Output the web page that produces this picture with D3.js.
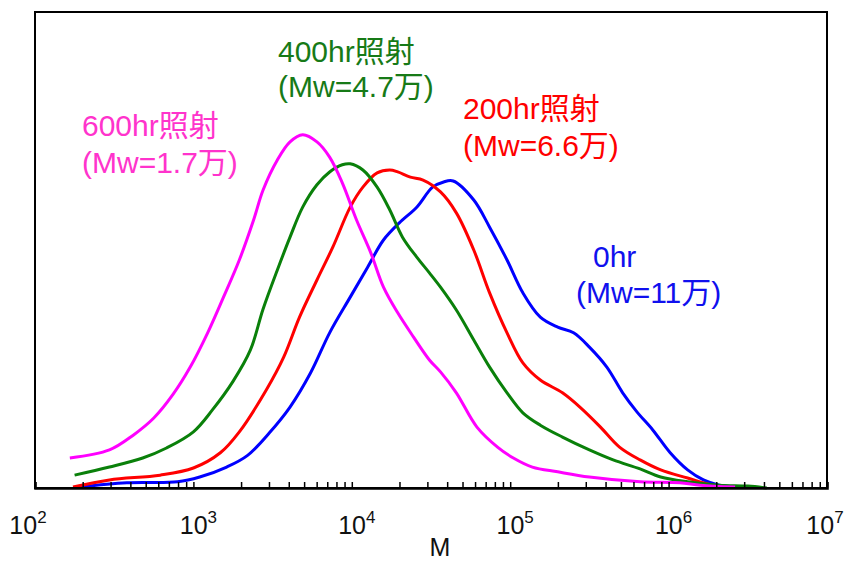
<!DOCTYPE html>
<html>
<head>
<meta charset="utf-8">
<script src="https://cdnjs.cloudflare.com/ajax/libs/d3/7.8.5/d3.min.js"></script>
<style>
  body { margin: 0; background: #fff; }
  svg text { font-family: "Liberation Sans", Arial, "Noto Sans CJK JP", sans-serif; }
</style>
</head>
<body>
<svg id="chart" width="846" height="561"></svg>
<script>
// log10(M) sample points and relative intensity
const logM600 = [2.22, 2.47, 2.62, 2.75, 2.87, 2.98, 3.09, 3.19, 3.29, 3.38, 3.44, 3.53, 3.61, 3.69, 3.78, 3.86, 3.94, 4.03, 4.12, 4.20, 4.29, 4.39, 4.49, 4.56, 4.66, 4.79, 4.92, 5.02, 5.14, 5.30, 5.50, 5.82, 6.07, 6.20, 6.42];
const val600  = [6.3, 8.0, 11.1, 14.7, 19.6, 25.4, 32.6, 40.1, 47.9, 56.3, 62.6, 68.9, 72.7, 74.2, 72.7, 69.5, 64.1, 56.3, 49.4, 42.2, 36.8, 31.7, 26.9, 24.4, 20.0, 12.8, 8.6, 6.3, 4.4, 3.4, 2.3, 1.3, 1.1, 0.6, 0.2];

const logM400 = [2.25, 2.47, 2.68, 2.83, 3.00, 3.12, 3.25, 3.36, 3.44, 3.53, 3.61, 3.69, 3.78, 3.86, 3.94, 3.99, 4.07, 4.16, 4.24, 4.32, 4.41, 4.49, 4.56, 4.66, 4.77, 4.87, 4.98, 5.08, 5.19, 5.33, 5.50, 5.65, 5.82, 5.95, 6.12, 6.32, 6.50, 6.62];
const val400  = [2.7, 4.4, 6.3, 8.4, 11.8, 16.4, 22.4, 29.0, 37.6, 45.8, 52.7, 59.0, 63.7, 66.4, 67.9, 68.1, 66.8, 63.2, 58.4, 52.7, 48.5, 45.2, 42.2, 37.4, 31.1, 25.4, 20.0, 15.8, 13.2, 10.7, 8.0, 5.9, 4.0, 2.3, 1.3, 0.6, 0.4, 0.0];

const logM200 = [2.24, 2.47, 2.79, 3.00, 3.17, 3.29, 3.46, 3.57, 3.67, 3.78, 3.88, 3.99, 4.07, 4.16, 4.24, 4.29, 4.37, 4.45, 4.56, 4.66, 4.77, 4.87, 4.98, 5.08, 5.19, 5.33, 5.44, 5.57, 5.69, 5.82, 5.95, 6.12, 6.28, 6.41];
const val200  = [0.2, 1.7, 2.7, 4.2, 7.4, 11.8, 20.6, 27.5, 35.9, 43.7, 50.6, 59.0, 63.2, 66.2, 66.8, 66.4, 65.3, 64.7, 62.2, 57.8, 50.0, 41.0, 32.6, 26.3, 22.7, 20.0, 17.0, 12.8, 8.6, 5.9, 3.8, 2.1, 0.6, 0.2];

const logM0 = [2.28, 2.58, 2.90, 3.04, 3.21, 3.34, 3.48, 3.61, 3.74, 3.86, 3.99, 4.10, 4.20, 4.30, 4.41, 4.51, 4.58, 4.64, 4.77, 4.87, 4.98, 5.08, 5.19, 5.30, 5.40, 5.50, 5.61, 5.71, 5.80, 5.90, 6.01, 6.12, 6.22, 6.32, 6.45];
const val0  = [0.2, 1.1, 1.3, 2.3, 4.4, 6.8, 11.6, 17.0, 24.2, 32.6, 40.1, 46.4, 52.1, 55.7, 59.0, 63.2, 64.3, 64.5, 60.5, 54.8, 47.9, 41.0, 35.9, 33.8, 32.6, 29.6, 25.4, 20.0, 16.0, 12.2, 7.4, 3.8, 1.7, 0.6, 0.2];

const tickExponents = [2, 3, 4, 5, 6, 7];

const series = [
  { name: "0hr", logM: logM0, val: val0, color: "#0000ff", text: "#1010ee", lines: ["0hr", "(Mw=11万)"] },
  { name: "200hr", logM: logM200, val: val200, color: "#ff0000", text: "#ff0000", lines: ["200hr照射", "(Mw=6.6万)"] },
  { name: "400hr", logM: logM400, val: val400, color: "#0a800a", text: "#177a17", lines: ["400hr照射", "(Mw=4.7万)"] },
  { name: "600hr", logM: logM600, val: val600, color: "#ff00ff", text: "#ff33cc", lines: ["600hr照射", "(Mw=1.7万)"] }
];

const margin = { left: 35, top: 12, right: 19, bottom: 73 };
const W = 846, H = 561;
const svg = d3.select('#chart');

const x = d3.scaleLog().domain([1e2, 1e7]).range([margin.left, W - margin.right]);
const y = d3.scaleLinear().domain([0, 100]).range([H - margin.bottom, margin.top]);

// curves
const line = d3.line()
  .x(d => x(Math.pow(10, d[0])))
  .y(d => y(d[1]))
  .curve(d3.curveCatmullRom.alpha(0.5));

svg.append('g')
  .selectAll('path')
  .data(series)
  .join('path')
  .attr('fill', 'none')
  .attr('stroke', d => d.color)
  .attr('stroke-width', 3)
  .attr('stroke-linejoin', 'round')
  .attr('d', d => line(d.logM.map((m, i) => [m, d.val[i]])));

// frame
svg.append('rect')
  .attr('x', margin.left)
  .attr('y', margin.top)
  .attr('width', W - margin.left - margin.right)
  .attr('height', H - margin.top - margin.bottom)
  .attr('fill', 'none')
  .attr('stroke', '#000')
  .attr('stroke-width', 2);

// minor + major ticks pointing inward
const ticks = [];
for (let e = 2; e < 7; e++) {
  for (let k = 1; k < 10; k++) ticks.push(k * Math.pow(10, e));
}
ticks.push(1e7);
const xAxis = d3.axisBottom(x).tickValues(ticks).tickSize(-6).tickFormat('');
const ax = svg.append('g')
  .attr('transform', `translate(0,${H - margin.bottom})`)
  .call(xAxis);
ax.select('.domain').attr('stroke-width', 2.5);
ax.selectAll('.tick line').attr('stroke-width', 1.5);

// tick labels 10^n
const lbl = svg.append('g')
  .selectAll('text')
  .data(tickExponents)
  .join('text')
  .attr('x', (d, i) => x(Math.pow(10, d)) + (i === 0 ? -7 : i === tickExponents.length - 1 ? -2 : 5))
  .attr('y', 534)
  .attr('text-anchor', 'middle')
  .attr('font-size', 25)
  .attr('fill', '#111');
lbl.append('tspan').text('10');
lbl.append('tspan').attr('font-size', 17).attr('dy', -11).text(d => d);

svg.append('text')
  .attr('x', 440)
  .attr('y', 556)
  .attr('text-anchor', 'middle')
  .attr('font-size', 25)
  .attr('fill', '#111')
  .text('M');

// annotations
const labelPos = {
  "0hr": [[593, 267], [576, 303]],
  "200hr": [[463, 119], [463, 156]],
  "400hr": [[278, 62], [278, 97]],
  "600hr": [[82, 136], [82, 173]]
};
series.forEach(s => {
  s.lines.forEach((t, i) => {
    svg.append('text')
      .attr('x', labelPos[s.name][i][0])
      .attr('y', labelPos[s.name][i][1])
      .attr('font-size', 30)
      .attr('fill', s.text)
      .text(t);
  });
});
</script>
</body>
</html>
